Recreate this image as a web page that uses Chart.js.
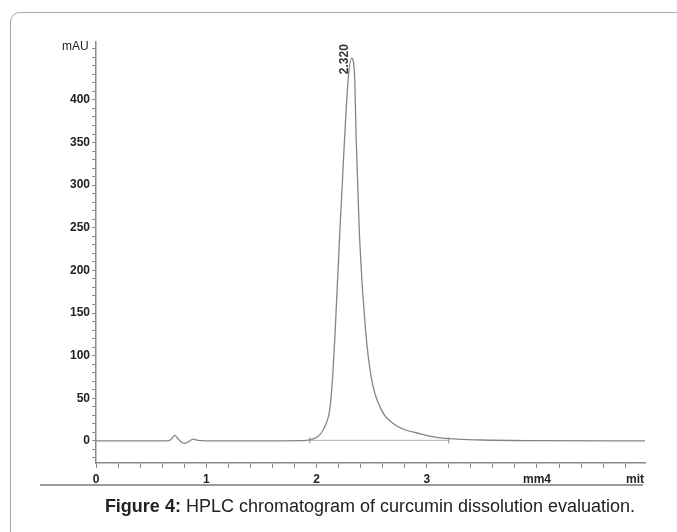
<!DOCTYPE html>
<html>
<head>
<meta charset="utf-8">
<script src="https://cdn.jsdelivr.net/npm/chart.js@4/dist/chart.umd.min.js"></script>
<style>
  html, body { margin: 0; padding: 0; background: #fff; }
  #wrap { position: relative; width: 677px; height: 532px; overflow: hidden; font-family: "Liberation Sans", Arial, sans-serif; }
  #card { position: absolute; left: 10px; top: 12px; width: 720px; height: 600px; border: 1px solid #a8a8a8; border-radius: 10px; box-sizing: border-box; }
  #c { position: absolute; left: 0; top: 0; }
  #cap { position: absolute; left: 0; width: 740px; top: 496px; text-align: center; font-size: 18px; color: #222; }
</style>
</head>
<body>
<div id="wrap">
  <div id="card"></div>
  <canvas id="c" width="677" height="500"></canvas>
  <div id="cap"><b>Figure 4:</b> HPLC chromatogram of curcumin dissolution evaluation.</div>
</div>
<script>
// Retention time (min) and detector signal (mAU)
const timeMin = [0, 0.6, 0.66, 0.69, 0.715, 0.74, 0.77, 0.805, 0.84, 0.88, 0.93, 1.0, 1.5, 1.85, 1.95, 2.0, 2.045, 2.09, 2.12, 2.145, 2.17, 2.21, 2.255, 2.29, 2.32, 2.345, 2.36, 2.39, 2.445, 2.50, 2.59, 2.69, 2.8, 2.905, 3.05, 3.2, 3.5, 4.0, 4.98];
const signalMAU = [0, 0, 0.3, 3, 6.5, 3, -1, -3, -1, 2, 0.5, 0, 0, 0.3, 1.5, 4, 9.5, 21, 36, 72, 130, 240, 355, 428, 449, 430, 355, 240, 130, 72, 36, 21, 13, 9.5, 5, 2.5, 1, 0.3, 0];
// Integration baseline under the main peak
const baselineTime = [1.94, 3.2];
const baselineMAU = [0.6, 0.6];
// Peak annotation
const peakTime = 2.32;
const peakHeight = 449;
const peakLabel = "2.320";
// Axis labels
const xTickLabels = ["0", "1", "2", "3", "mm4"];
const xEndLabel = "mit";
const yUnitLabel = "mAU";
const yTickLabels = [0, 50, 100, 150, 200, 250, 300, 350, 400];

const axisColor = '#8d8896';
const labelFont = { family: 'Liberation Sans, Arial, sans-serif', size: 12, weight: 'bold' };

const extras = {
  id: 'extras',
  afterDraw(chart) {
    const ctx = chart.ctx;
    const xs = chart.scales.x, ys = chart.scales.y;
    ctx.save();
    // unit label
    ctx.fillStyle = '#222';
    ctx.font = '12px "Liberation Sans", Arial, sans-serif';
    ctx.textAlign = 'left';
    ctx.textBaseline = 'middle';
    ctx.fillText(yUnitLabel, 62, 47);
    // end label on x axis
    ctx.font = 'bold 12px "Liberation Sans", Arial, sans-serif';
    ctx.textAlign = 'right';
    ctx.textBaseline = 'top';
    ctx.fillText(xEndLabel, xs.right - 1, xs.top + 11);
    // rule below the axis labels
    ctx.strokeStyle = '#9a9a9a';
    ctx.lineWidth = 2;
    ctx.beginPath();
    ctx.moveTo(40, 485);
    ctx.lineTo(xs.right - 2, 485);
    ctx.stroke();
    // peak label, rotated
    const px = xs.getPixelForValue(peakTime) - 4;
    const py = ys.getPixelForValue(peakHeight) + 16;
    ctx.translate(px, py);
    ctx.rotate(-Math.PI / 2);
    ctx.textAlign = 'left';
    ctx.textBaseline = 'alphabetic';
    ctx.fillStyle = '#333';
    ctx.font = 'bold 12px "Liberation Sans", Arial, sans-serif';
    ctx.fillText(peakLabel, 0, 0);
    ctx.restore();
  }
};

new Chart(document.getElementById('c'), {
  type: 'scatter',
  data: {
    datasets: [
      {
        data: timeMin.map((t, i) => ({ x: t, y: signalMAU[i] })),
        showLine: true,
        borderColor: '#858585',
        borderWidth: 1.3,
        pointRadius: 0,
        cubicInterpolationMode: 'monotone',
        order: 1
      },
      {
        data: baselineTime.map((t, i) => ({ x: t, y: baselineMAU[i] })),
        showLine: true,
        borderColor: '#b0b0b0',
        borderWidth: 1,
        pointStyle: 'line',
        rotation: 90,
        pointRadius: 3,
        pointBorderColor: '#888',
        pointBorderWidth: 1,
        order: 2
      }
    ]
  },
  options: {
    responsive: false,
    animation: false,
    events: [],
    layout: { padding: { left: 0, top: 42, right: 32, bottom: 0 } },
    plugins: { legend: { display: false }, tooltip: { enabled: false } },
    scales: {
      x: {
        type: 'linear',
        min: 0,
        max: 4.98,
        afterFit(s) { s.height = 37; },
        border: { display: true, color: axisColor, width: 1.5 },
        grid: { drawOnChartArea: false, drawTicks: true, tickLength: 5, color: axisColor, lineWidth: 1 },
        ticks: {
          stepSize: 0.2,
          autoSkip: false,
          maxRotation: 0,
          padding: 4,
          color: '#222',
          font: labelFont,
          includeBounds: false,
          callback(v) {
            const r = Math.round(v);
            if (Math.abs(v - r) < 1e-6 && r >= 0 && r < xTickLabels.length) return xTickLabels[r];
            return '';
          }
        }
      },
      y: {
        type: 'linear',
        min: -26,
        max: 468,
        afterFit(s) { s.width = 96; },
        border: { display: true, color: axisColor, width: 1.5 },
        grid: { drawOnChartArea: false, drawTicks: true, tickLength: 4, color: axisColor, lineWidth: 1 },
        ticks: {
          stepSize: 10,
          autoSkip: false,
          includeBounds: false,
          padding: 2,
          color: '#222',
          font: labelFont,
          callback(v) {
            const r = Math.round(v);
            return yTickLabels.includes(r) ? String(r) : '';
          }
        }
      }
    }
  },
  plugins: [extras]
});
</script>
</body>
</html>
